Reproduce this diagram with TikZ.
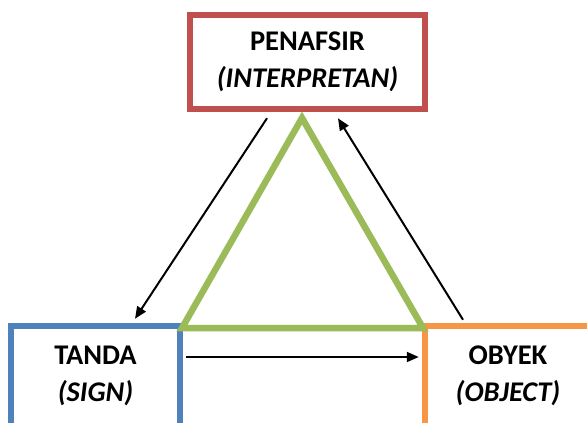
\documentclass[tikz,border=0pt]{standalone}
\usepackage{fontspec}
\setmainfont{Carlito}
\usetikzlibrary{arrows.meta}
\definecolor{cred}{RGB}{192,80,77}
\definecolor{cblue}{RGB}{79,129,189}
\definecolor{corange}{RGB}{247,150,70}
\definecolor{cgreen}{RGB}{155,187,89}
\tikzset{
  boxnode/.style={draw, line width=6.5pt, fill=white, align=center, inner sep=0pt,
    font=\fontsize{28.5}{37}\selectfont\bfseries},
  arr/.style={line width=2pt, -{Triangle[length=12pt,width=10pt]}},
}
\begin{document}
\begin{tikzpicture}[x=1pt,y=-1pt]
\useasboundingbox (0,0) rectangle (587,423);
\clip (0,0) rectangle (587,423);
\fill[white] (0,0) rectangle (587,423);
% triangle
\coordinate (apex) at (302,118);
\coordinate (bl) at (182,328);
\coordinate (br) at (423,328);
% boxes
\node[boxnode, draw=cred, minimum width=235pt, minimum height=94pt] (penafsir) at (307.5,62)
  {PENAFSIR\\\textit{(INTERPRETAN)}};
\node[boxnode, draw=cblue, minimum width=169pt, minimum height=100pt] (tanda) at (95.5,376)
  {TANDA\\\textit{(SIGN)}};
\node[boxnode, draw=corange, minimum width=166pt, minimum height=100pt] (obyek) at (508,376)
  {OBYEK\\\textit{(OBJECT)}};
\draw[cgreen, line width=6.5pt, line join=miter] (apex) -- (bl) -- (br) -- cycle;
% connectors
\coordinate (h) at (0,357);
\draw[arr] (tanda.east |- h) ++(3,0) -- ([xshift=-3pt]obyek.west |- h);
\draw[arr] ([xshift=-40.5pt,yshift=-6pt]penafsir.south) -- ([xshift=39.5pt,yshift=4pt]tanda.north);
\draw[arr] ([xshift=-45pt,yshift=3pt]obyek.north) -- ([xshift=30.5pt,yshift=-6pt]penafsir.south);
\end{tikzpicture}
\end{document}
